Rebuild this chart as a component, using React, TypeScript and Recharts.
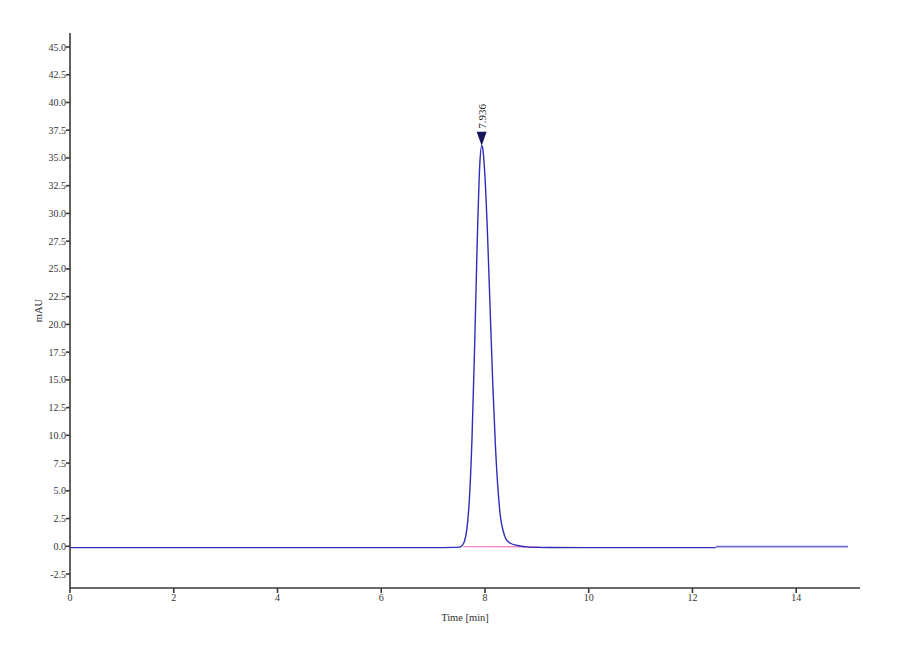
import { LineChart, Line, XAxis, YAxis, ReferenceDot } from 'recharts';

// main UV trace (mAU)
const traceTime = [
  0, 2, 4, 6, 7, 7.4, 7.5, 7.55, 7.6, 7.65, 7.7, 7.75, 7.8, 7.85, 7.9, 7.936,
  7.95, 8.0, 8.05, 8.1, 8.15, 8.2, 8.25, 8.3, 8.35, 8.4, 8.45, 8.5, 8.6, 8.7,
  8.8, 9.0, 10, 11, 12, 12.45,
];
const traceSignal = [
  -0.12, -0.12, -0.12, -0.12, -0.12, -0.1, -0.08, 0.03, 0.4, 1.5, 4.3, 9.7, 17.9,
  27.3, 34.4, 36.1, 36.0, 33.3, 28.0, 21.3, 14.7, 9.2, 5.2, 2.6, 1.4, 0.7, 0.4,
  0.25, 0.1, 0.0, -0.05, -0.1, -0.12, -0.12, -0.12, -0.12,
];

// tail of the trace after the small step at ~12.45 min
const tailTime = [12.45, 13, 14, 15];
const tailSignal = [-0.03, -0.03, -0.03, -0.03];

// integration baseline under the peak
const baselineTime = [7.58, 9.05];
const baselineSignal = [-0.03, -0.05];

const peakTime = 7.936;
const peakHeight = 36.1;
const peakLabel = '7.936';

const yTicks = [-2.5, 0, 2.5, 5, 7.5, 10, 12.5, 15, 17.5, 20, 22.5, 25, 27.5, 30, 32.5, 35, 37.5, 40, 42.5, 45];
const xTicks = [0, 2, 4, 6, 8, 10, 12, 14];

const zip = (t: number[], v: number[]) => t.map((time, i) => ({ time, value: v[i] }));

const traceData = zip(traceTime, traceSignal);
const tailData = zip(tailTime, tailSignal);
const baselineData = zip(baselineTime, baselineSignal);

const serif = '"Liberation Serif", "Times New Roman", serif';
const axisColor = '#3a3a3a';

function PeakMarker(props: any) {
  const { cx, cy } = props;
  if (cx == null || cy == null) return null;
  return (
    <g>
      <polygon points={`${cx - 5},${cy - 14} ${cx + 5},${cy - 14} ${cx},${cy}`} fill="#16165e" />
      <text
        x={cx + 4}
        y={cy - 17}
        transform={`rotate(-90 ${cx + 4} ${cy - 17})`}
        fontFamily={serif}
        fontSize={11}
        fill="#222"
        textAnchor="start"
      >
        {peakLabel}
      </text>
    </g>
  );
}

export default function App() {
  return (
    <div style={{ width: 900, height: 652, background: '#fff' }}>
      <LineChart width={900} height={652} margin={{ top: 25, right: 48, bottom: 32, left: 22 }}>
        <XAxis
          dataKey="time"
          type="number"
          domain={[0, 15.23]}
          ticks={xTicks}
          allowDataOverflow
          stroke={axisColor}
          strokeWidth={1.6}
          tickSize={5}
          tickMargin={1}
          height={40}
          tick={{ fontFamily: serif, fontSize: 10, fill: '#333' }}
          label={(p: any) => {
            const vb = p.viewBox;
            return (
              <text x={vb.x + vb.width / 2} y={vb.y + 33} textAnchor="middle" fontFamily={serif} fontSize={10.5} fill="#333">
                Time [min]
              </text>
            );
          }}
        />
        <YAxis
          type="number"
          domain={[-3.76, 46.26]}
          ticks={yTicks}
          allowDataOverflow
          width={40}
          stroke={axisColor}
          strokeWidth={1.6}
          tickSize={4}
          tickMargin={0}
          tickFormatter={(v: number) => v.toFixed(1)}
          tick={{ fontFamily: serif, fontSize: 10, fill: '#333' }}
          label={(p: any) => {
            const vb = p.viewBox;
            const x = vb.x + 12;
            const y = vb.y + vb.height / 2;
            return (
              <text x={x} y={y} transform={`rotate(-90 ${x} ${y})`} textAnchor="middle" fontFamily={serif} fontSize={10.5} fill="#333">
                mAU
              </text>
            );
          }}
        />
        <Line
          data={baselineData}
          dataKey="value"
          type="linear"
          stroke="#f58ac8"
          strokeWidth={1.4}
          dot={false}
          isAnimationActive={false}
        />
        <Line
          data={traceData}
          dataKey="value"
          type="monotone"
          stroke="#2e2eb8"
          strokeWidth={1.4}
          dot={false}
          isAnimationActive={false}
        />
        <Line
          data={tailData}
          dataKey="value"
          type="linear"
          stroke="#6a6ad8"
          strokeWidth={1.6}
          dot={false}
          isAnimationActive={false}
        />
        <ReferenceDot x={peakTime} y={peakHeight} shape={PeakMarker} />
      </LineChart>
    </div>
  );
}
